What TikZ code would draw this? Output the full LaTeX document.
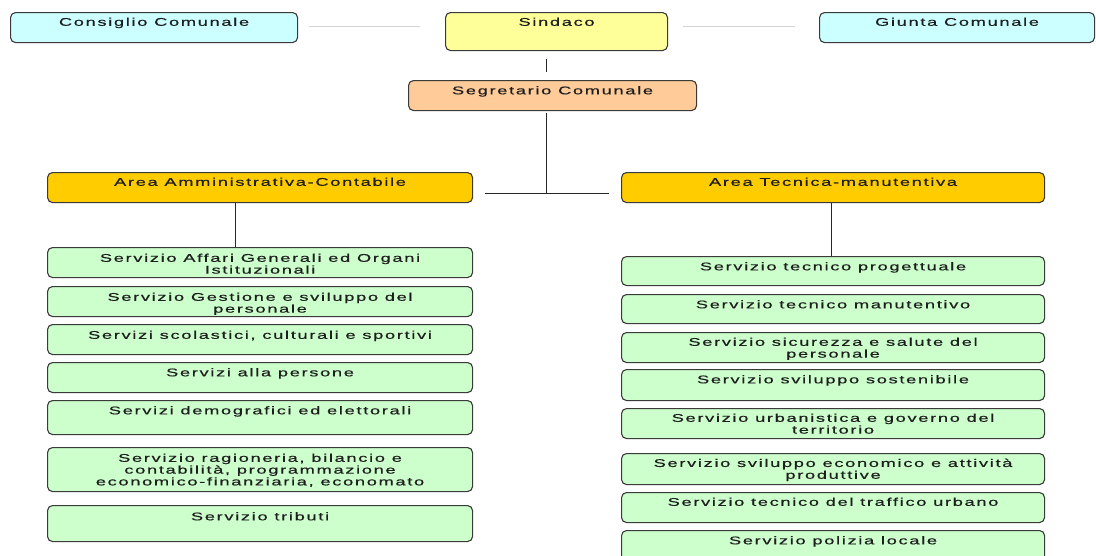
\documentclass[tikz,border=0pt]{standalone}
\usepackage{fontspec}
\setmainfont{Liberation Sans}[FakeStretch=1.63,LetterSpace=15,FakeBold=0.6]
\usetikzlibrary{calc}
\definecolor{cyanf}{HTML}{CCFFFF}
\definecolor{yelf}{HTML}{FFFF99}
\definecolor{peachf}{HTML}{FFCC99}
\definecolor{orangef}{HTML}{FFCC00}
\definecolor{greenf}{HTML}{CCFFCC}
\definecolor{bord}{HTML}{3A3A3A}
\definecolor{glinec}{HTML}{D4D4D4}
\definecolor{txtc}{HTML}{1E1E1E}
\tikzset{
  boxbase/.style={draw=bord, line width=1.1pt, rounded corners=5pt, inner sep=0pt},
  cyanbox/.style={boxbase, fill=cyanf},
  yelbox/.style={boxbase, fill=yelf},
  peachbox/.style={boxbase, fill=peachf},
  areabox/.style={boxbase, fill=orangef},
  servbox/.style={boxbase, fill=greenf},
  txt/.style={inner sep=0pt, align=center, text=txtc, font=\fontsize{11.2pt}{11.8pt}\selectfont},
  conn/.style={draw=black!85, line width=1pt},
  gline/.style={draw=glinec, line width=1pt},
}
\newcommand\obox[8]{%
  \node[#6, anchor=north west, minimum width={#4pt-#2pt}, minimum height={#5pt-#3pt}] (#1) at (#2,#3) {};
  \node[txt, anchor=north] (#1t) at ([yshift=-#8pt]#1.north) {#7};}
\begin{document}
\begin{tikzpicture}[x=1pt,y=-1pt]
\clip (0,0) rectangle (1096,555);
\fill[white] (0,0) rectangle (1096,555);
% top row
\obox{cons}{10}{12}{297}{42}{cyanbox}{Consiglio Comunale}{5.5}
\obox{sind}{445}{12}{667}{50}{yelbox}{Sindaco}{5.5}
\obox{giun}{819}{12}{1094}{42}{cyanbox}{Giunta Comunale}{5.5}
\obox{seg}{408}{80}{696}{110}{peachbox}{Segretario Comunale}{6}
% areas
\obox{areaA}{47}{172}{472}{202}{areabox}{Area Amministrativa-Contabile}{5.5}
\obox{areaT}{621}{172}{1044}{202}{areabox}{Area Tecnica-manutentiva}{5.5}
% left services
\obox{sA1}{47}{247}{472}{277}{servbox}{Servizio Affari Generali ed Organi\\Istituzionali}{6.5}
\obox{sA2}{47}{286}{472}{316}{servbox}{Servizio Gestione e sviluppo del\\personale}{6.5}
\obox{sA3}{47}{324}{472}{354}{servbox}{Servizi scolastici, culturali e sportivi}{6.5}
\obox{sA4}{47}{362}{472}{392}{servbox}{Servizi alla persone}{6}
\obox{sA5}{47}{400}{472}{434}{servbox}{Servizi demografici ed elettorali}{6}
\obox{sA6}{47}{447}{472}{491}{servbox}{Servizio ragioneria, bilancio e\\contabilità, programmazione\\economico-finanziaria, economato}{6.5}
\obox{sA7}{47}{505}{472}{541}{servbox}{Servizio tributi}{7}
% right services
\obox{sT1}{621}{256}{1044}{285}{servbox}{Servizio tecnico progettuale}{6}
\obox{sT2}{621}{294}{1044}{323}{servbox}{Servizio tecnico manutentivo}{6}
\obox{sT3}{621}{332}{1044}{362}{servbox}{Servizio sicurezza e salute del\\personale}{5.5}
\obox{sT4}{621}{369}{1044}{400}{servbox}{Servizio sviluppo sostenibile}{6}
\obox{sT5}{621}{408}{1044}{438}{servbox}{Servizio urbanistica e governo del\\territorio}{5.5}
\obox{sT6}{621}{453}{1044}{484}{servbox}{Servizio sviluppo economico e attività\\produttive}{5.5}
\obox{sT7}{621}{492}{1044}{522}{servbox}{Servizio tecnico del traffico urbano}{5.5}
\obox{sT8}{621}{530}{1044}{563}{servbox}{Servizio polizia locale}{6}
% connector coordinates
\coordinate (hub) at (546,193);
\coordinate (axA) at (235,0);
\coordinate (axT) at (831,0);
% light lines
\draw[gline] ([xshift=11pt,yshift=1pt]cons.east) -- ([xshift=-25pt,yshift=1pt]cons.east -| sind.west);
\draw[gline] ([xshift=15pt,yshift=1pt]giun.west -| sind.east) -- ([xshift=-24pt,yshift=1pt]giun.west);
% hierarchy
\draw[conn] ([yshift=-8pt]sind.south -| hub) -- ([yshift=8pt]seg.north -| hub);
\draw[conn] ([yshift=-2pt]seg.south -| hub) -- (hub);
\draw[conn] ([xshift=12pt]areaA.east |- hub) -- ([xshift=-12pt]areaT.west |- hub);
\draw[conn] (areaA.south -| axA) -- (sA1.north -| axA);
\draw[conn] (areaT.south -| axT) -- (sT1.north -| axT);
\end{tikzpicture}
\end{document}
